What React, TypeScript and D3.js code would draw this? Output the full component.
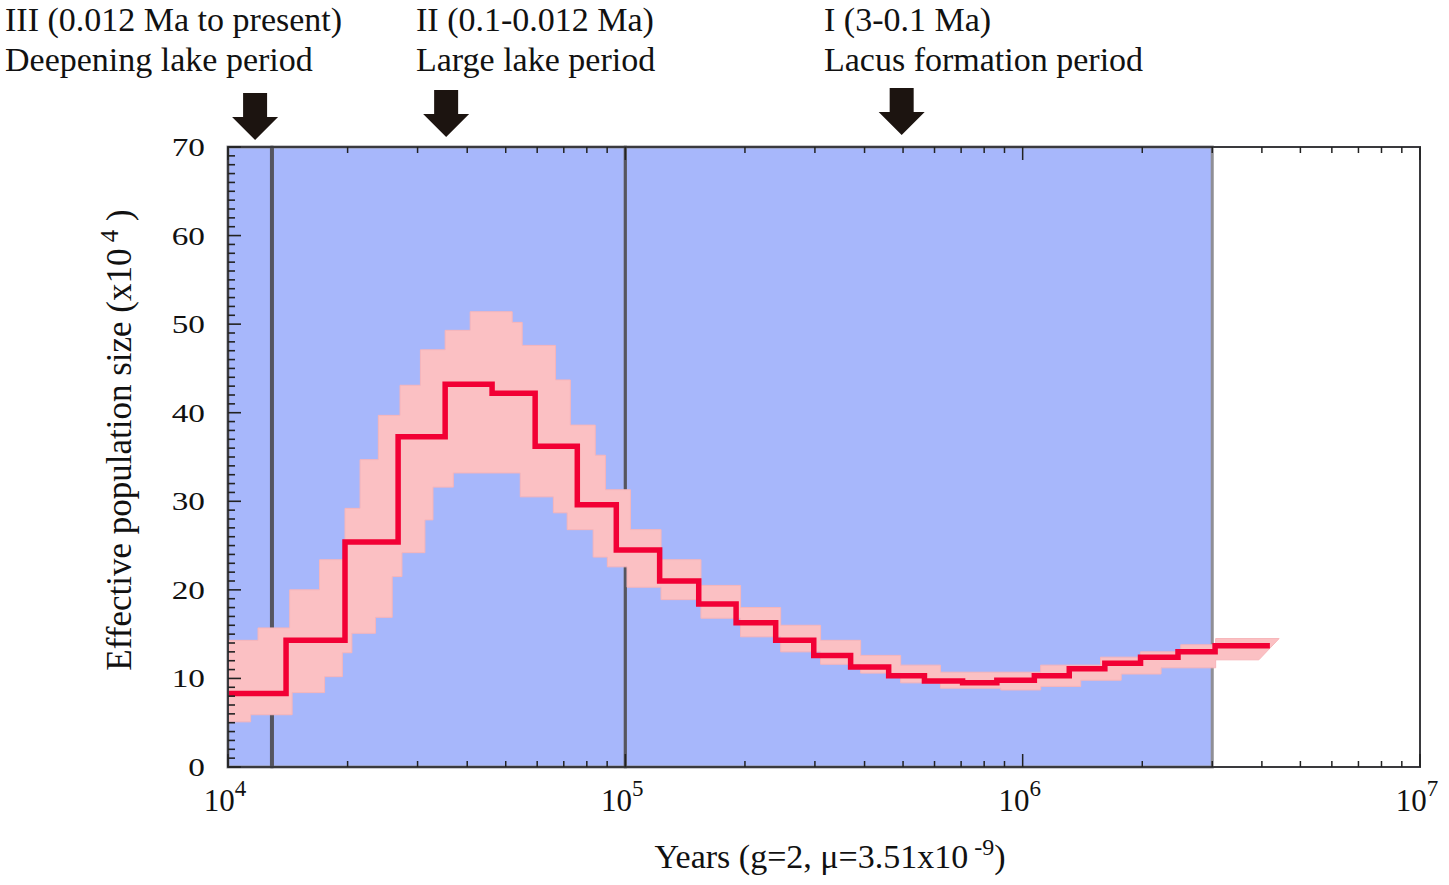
import React from 'react';
import * as d3 from 'd3';

// PSMC median curve: start time of each interval (years) and Ne (x10^4)
const stepTimes = [1.0e4, 1.40e4, 1.97e4, 2.68e4, 3.52e4, 4.62e4, 5.93e4, 7.57e4, 9.49e4, 1.22e5, 1.53e5, 1.90e5, 2.39e5,
  2.98e5, 3.69e5, 4.60e5, 5.66e5, 7.06e5, 8.61e5, 1.07e6, 1.31e6, 1.61e6, 1.98e6, 2.46e6, 3.05e6];
const stepValues = [8.3, 14.3, 25.4, 37.3, 43.2, 42.2, 36.2, 29.6, 24.5, 21.0, 18.4, 16.3, 14.3,
  12.6, 11.3, 10.3, 9.7, 9.5, 9.8, 10.3, 11.1, 11.7, 12.4, 13.0, 13.7];
const stepEnd = 4.19e6;

// bootstrap envelope (upper and lower edges of the pink bundle)
const upperTimes = [1.0e4, 1.19e4, 1.43e4, 1.70e4, 1.97e4, 2.15e4, 2.39e4, 2.71e4, 3.05e4, 3.52e4, 4.07e4, 5.19e4, 5.50e4,
  6.67e4, 7.27e4, 8.40e4, 8.91e4, 1.03e5, 1.23e5, 1.55e5, 1.95e5, 2.46e5, 3.10e5, 3.91e5, 4.93e5, 6.21e5, 1.11e6,
  1.57e6, 1.98e6, 2.50e6, 3.06e6];
const upperValues = [14.3, 15.7, 20.0, 23.4, 29.2, 34.7, 39.7, 43.1, 47.1, 49.3, 51.4, 50.2, 47.6,
  43.7, 38.6, 35.2, 31.3, 26.8, 23.4, 20.5, 18.0, 16.0, 14.3, 12.6, 11.5, 10.7, 11.5,
  12.4, 13.0, 13.8, 14.5];
const upperEnd = 4.42e6;
const lowerTimes = [1.0e4, 1.14e4, 1.45e4, 1.75e4, 1.94e4, 2.05e4, 2.35e4, 2.59e4, 2.74e4, 3.13e4, 3.28e4, 3.69e4, 5.44e4,
  6.59e4, 7.14e4, 8.30e4, 9.01e4, 1.01e5, 1.23e5, 1.55e5, 1.95e5, 2.46e5, 3.10e5, 3.91e5, 4.93e5, 6.21e5, 8.81e5,
  1.11e6, 1.40e6, 1.77e6, 2.23e6, 3.06e6];
const lowerValues = [5.1, 5.9, 8.4, 10.2, 12.9, 15.1, 16.9, 21.5, 24.2, 27.9, 31.6, 33.2, 30.5,
  28.7, 26.8, 23.7, 22.6, 20.3, 18.9, 16.8, 14.7, 13.0, 11.6, 10.6, 9.5, 8.9, 8.7,
  9.1, 9.8, 10.5, 11.2, 12.1];
const lowerEnd = 3.93e6;

// shaded periods and dividing lines
const periodBounds = [1.0e4, 1.29e4, 1.0e5, 3.0e6];
const dividerTimes = [1.29e4, 1.0e5];
const arrowTimes = [1.17e4, 3.54e4, 4.96e5];
const periodTitles = [
  ['III (0.012 Ma to present)', 'Deepening lake period'],
  ['II (0.1-0.012 Ma)', 'Large lake period'],
  ['I (3-0.1 Ma)', 'Lacus formation period'],
];
const yTicks = [0, 10, 20, 30, 40, 50, 60, 70];
const xDecades = [4, 5, 6, 7];

const W = 1449;
const H = 885;
const L = 228, R = 1420, T = 147, B = 767;
const font = "'Liberation Serif', 'Times New Roman', serif";

const x = d3.scaleLog().domain([1e4, 1e7]).range([L, R]);
const y = d3.scaleLinear().domain([0, 70]).range([B, T]);

const stepLine = d3.line<[number, number]>()
  .x(d => x(d[0]))
  .y(d => y(d[1]))
  .curve(d3.curveStepAfter);
const stepBack = d3.line<[number, number]>()
  .x(d => x(d[0]))
  .y(d => y(d[1]))
  .curve(d3.curveStepBefore);

const withEnd = (ts: number[], vs: number[], end: number): [number, number][] =>
  [...ts.map((t, i) => [t, vs[i]] as [number, number]), [end, vs[vs.length - 1]]];

const medianPts = withEnd(stepTimes, stepValues, stepEnd);
const upperPts = withEnd(upperTimes, upperValues, upperEnd);
const lowerPts = withEnd(lowerTimes, lowerValues, lowerEnd).reverse();
const bandPath = stepLine(upperPts) + stepBack(lowerPts)!.replace(/^M/, 'L') + 'Z';

const minorX: number[] = [];
xDecades.slice(0, -1).forEach(k => {
  for (let m = 2; m <= 9; m++) minorX.push(m * Math.pow(10, k));
});
const minorY = d3.range(0, 71);

const App = () => {
  return (
    <svg width={W} height={H} style={{ position: 'absolute', left: 0, top: 0, background: '#fff' }}>
      <defs>
        <clipPath id="plot">
          <rect x={L} y={T} width={R - L} height={B - T} />
        </clipPath>
      </defs>

      {/* shaded periods */}
      {periodBounds.slice(0, -1).map((t, i) => (
        <rect key={i} x={x(t)} y={T} width={x(periodBounds[i + 1]) - x(t)} height={B - T}
          fill="#a7b7fb" stroke="#8f8f96" strokeWidth={3} />
      ))}
      {dividerTimes.map((t, i) => (
        <line key={i} x1={x(t)} x2={x(t)} y1={T} y2={B} stroke="#55555f" strokeWidth={i === 0 ? 4 : 3} />
      ))}

      <g clipPath="url(#plot)">
        <path d={bandPath} fill="#fbc0c3" stroke="#f7b5b9" strokeWidth={1} />
      </g>
      <path d={stepLine(medianPts)!} fill="none" stroke="#f20035" strokeWidth={5.5} clipPath="url(#plot)" />

      {/* frame */}
      <rect x={L} y={T} width={R - L} height={B - T} fill="none" stroke="#3a3a3e" strokeWidth={2} />

      {/* y ticks */}
      {minorY.map(v => (
        <line key={v} x1={L} x2={L + (v % 10 === 0 ? 13 : 7)} y1={y(v)} y2={y(v)} stroke="#222" strokeWidth={1.6} />
      ))}
      {/* x ticks, bottom and top */}
      {minorX.map(t => (
        <g key={t}>
          <line x1={x(t)} x2={x(t)} y1={B} y2={B - 6} stroke="#222" strokeWidth={1.5} />
          <line x1={x(t)} x2={x(t)} y1={T} y2={T + 6} stroke="#222" strokeWidth={1.5} />
        </g>
      ))}
      {xDecades.map(k => (
        <g key={k}>
          <line x1={x(Math.pow(10, k))} x2={x(Math.pow(10, k))} y1={B} y2={B - 13} stroke="#222" strokeWidth={1.5} />
          <line x1={x(Math.pow(10, k))} x2={x(Math.pow(10, k))} y1={T} y2={T + 13} stroke="#222" strokeWidth={1.5} />
        </g>
      ))}

      {/* y tick labels */}
      {yTicks.map(v => (
        <text key={v} transform={`translate(205,${y(v) + 9}) scale(1.28,1)`} textAnchor="end"
          fontFamily={font} fontSize={26} fill="#111">{v}</text>
      ))}
      {/* x tick labels */}
      {xDecades.map(k => (
        <text key={k} x={x(Math.pow(10, k)) - 3} y={811} textAnchor="middle" fontFamily={font} fontSize={31} fill="#111">
          10<tspan dy={-15} fontSize={23}>{k}</tspan>
        </text>
      ))}

      {/* axis titles */}
      <text x={830} y={868} textAnchor="middle" fontFamily={font} fontSize={34} fill="#111">
        Years (g=2, μ=3.51x10<tspan dy={-13} fontSize={24}> -9</tspan><tspan dy={13}>)</tspan>
      </text>
      <text transform="translate(131,440) rotate(-90)" textAnchor="middle" fontFamily={font} fontSize={35} fill="#111">
        Effective population size (x10<tspan dy={-13} fontSize={25}> 4</tspan><tspan dy={13}> )</tspan>
      </text>

      {/* period titles and arrows */}
      {periodTitles.map((lines, i) => {
        const tx = [5, 416, 824][i];
        return (
          <text key={i} fontFamily={font} fontSize={34} fill="#111">
            <tspan x={tx} y={31}>{lines[0]}</tspan>
            <tspan x={tx} y={71}>{lines[1]}</tspan>
          </text>
        );
      })}
      {arrowTimes.map((t, i) => {
        const cx = x(t);
        const top = [93, 90, 88][i];
        const tip = top + 47;
        const neck = top + 24;
        return (
          <path key={i} fill="#1c1410"
            d={`M${cx - 12},${top} L${cx + 12},${top} L${cx + 12},${neck} L${cx + 23},${neck} L${cx},${tip} L${cx - 23},${neck} L${cx - 12},${neck} Z`} />
        );
      })}
    </svg>
  );
};

export default App;
